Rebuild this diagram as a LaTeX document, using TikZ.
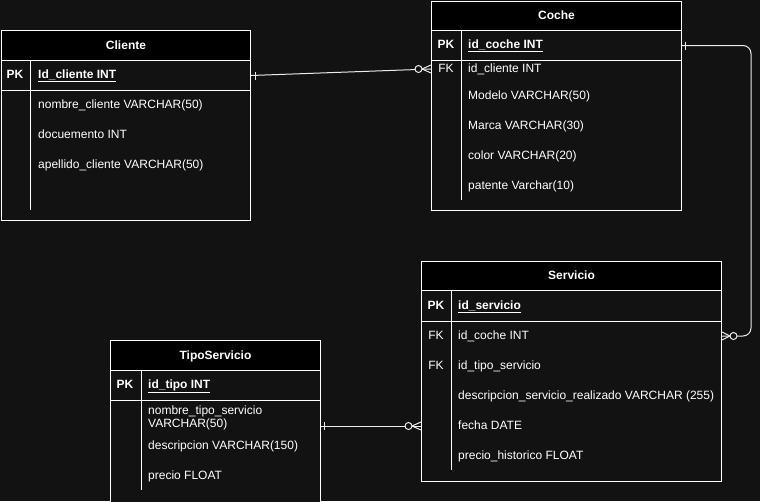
\documentclass[tikz,border=0pt]{standalone}
\usepackage{fontspec}
\setmainfont{Liberation Sans}
\usepackage{xcolor}
\usepackage{tikz}
\usetikzlibrary{calc}
\definecolor{er_bg}{RGB}{18, 18, 18}
\definecolor{er_line}{RGB}{235, 235, 235}

\begin{document}
\begin{tikzpicture}[x=1pt, y=-1pt,
    font=\fontsize{12}{14}\selectfont,
    tbl/.style={rectangle, draw=white, line width=1pt, fill=er_bg,
                anchor=north west, inner sep=0pt},
    hdr/.style={rectangle, draw=white, line width=1pt, fill=black,
                anchor=north west, inner sep=0pt, text=white,
                minimum height=30pt, text height=8pt, text depth=1pt,
                font=\fontsize{12}{14}\selectfont\bfseries},
    pkrow/.style={rectangle, draw=white, line width=1pt,
                  anchor=north west, inner sep=0pt, minimum height=30pt},
    sep/.style={white, line width=1pt},
    key/.style={text=white, inner sep=0pt, text height=8pt, text depth=1pt},
    fld/.style={text=white, anchor=west, inner sep=0pt, align=left,
                text height=8pt, text depth=1pt},
    rel/.style={er_line, line width=1pt},
    ring/.style={draw=er_line, line width=1pt, fill=er_bg},
  ]
  \useasboundingbox[fill=er_bg] (0,0) rectangle (760,501);

  % Cliente
  \node[tbl, minimum width=249pt, minimum height=160pt] (cliBody) at (1,60) {};
  \node[hdr, minimum width=249pt] (cliHead) at (1,30) {Cliente};
  \node[pkrow, minimum width=249pt] (cliPK) at (1,60) {};
  \draw[sep] (30,60) -- (30,210);
  \node[key, font=\fontsize{12}{14}\selectfont\bfseries] (cliPKk) at (15,75) {PK};
  \node[fld] (cliId) at (38,75) {\textbf{\underline{Id\_cliente INT}}};
  \node[fld] (cliNom) at (38,105) {nombre\_cliente VARCHAR(50)};
  \node[fld] (cliDoc) at (38,135) {docuemento INT};
  \node[fld] (cliApe) at (38,165) {apellido\_cliente VARCHAR(50)};

  % Coche
  \node[tbl, minimum width=250pt, minimum height=180pt] (cocBody) at (431,30) {};
  \node[hdr, minimum width=250pt, minimum height=29pt] (cocHead) at (431,1) {Coche};
  \node[pkrow, minimum width=250pt] (cocPK) at (431,30) {};
  \draw[sep] (461,30) -- (461,200);
  \node[key, font=\fontsize{12}{14}\selectfont\bfseries] (cocPKk) at (446,45) {PK};
  \node[key] (cocFKk) at (446,69) {FK};
  \node[fld] (cocId) at (468,45) {\textbf{\underline{id\_coche INT}}};
  \node[fld] (cocIdc) at (468,69) {id\_cliente INT};
  \node[fld] (cocMod) at (468,96) {Modelo VARCHAR(50)};
  \node[fld] (cocMar) at (468,126) {Marca VARCHAR(30)};
  \node[fld] (cocCol) at (468,156) {color VARCHAR(20)};
  \node[fld] (cocPat) at (468,186) {patente Varchar(10)};

  % Servicio
  \node[tbl, minimum width=300pt, minimum height=191pt] (serBody) at (421,290) {};
  \node[hdr, minimum width=300pt, minimum height=29pt] (serHead) at (421,261) {Servicio};
  \node[pkrow, minimum width=300pt, minimum height=31pt] (serPK) at (421,290) {};
  \draw[sep] (451,290) -- (451,470);
  \node[key, font=\fontsize{12}{14}\selectfont\bfseries] (serPKk) at (436,306) {PK};
  \node[key] (serFKk1) at (436,336) {FK};
  \node[key] (serFKk2) at (436,366) {FK};
  \node[fld] (serId) at (458,306) {\textbf{\underline{id\_servicio}}};
  \node[fld] (serIdc) at (458,336) {id\_coche INT};
  \node[fld] (serIdt) at (458,366) {id\_tipo\_servicio};
  \node[fld] (serDes) at (458,396) {descripcion\_servicio\_realizado VARCHAR (255)};
  \node[fld] (serFecha) at (458,426) {fecha DATE};
  \node[fld] (serPre) at (458,456) {precio\_historico FLOAT};

  % TipoServicio
  \node[tbl, minimum width=210pt, minimum height=132pt] (tipBody) at (110,370) {};
  \node[hdr, minimum width=210pt] (tipHead) at (110,340) {TipoServicio};
  \node[pkrow, minimum width=210pt] (tipPK) at (110,370) {};
  \draw[sep] (141,370) -- (141,490);
  \node[key, font=\fontsize{12}{14}\selectfont\bfseries] (tipPKk) at (125,385) {PK};
  \node[fld] (tipId) at (148,385) {\textbf{\underline{id\_tipo INT}}};
  \node[fld, text height=, text depth=, font=\fontsize{12}{13}\selectfont] (tipNom) at (148,417.5) {nombre\_tipo\_servicio\\VARCHAR(50)};
  \node[fld] (tipDes) at (148,446) {descripcion VARCHAR(150)};
  \node[fld] (tipPre) at (148,476) {precio FLOAT};

  % relaciones
  \coordinate (cocIn) at (cocIdc -| cocBody.west);
  \coordinate (serInR) at (serIdc -| serBody.east);
  \coordinate (tipOut) at (serFecha -| tipBody.east);
  \coordinate (serInL) at (serFecha -| serBody.west);

  \draw[rel] (cliPK.east) -- (cocIn);
  \draw[rel, rounded corners=8pt] (cocPK.east) -- ++(69,0) |- (serInR);
  \draw[rel] (tipOut) -- (serInL);

  % uno
  \draw[rel] ($(cliPK.east)+(4,-4)$) -- ++(0,8);
  \draw[rel] ($(cocPK.east)+(3,-4)$) -- ++(0,8);
  \draw[rel] ($(tipOut)+(3,-4)$) -- ++(0,8);

  % cero a muchos
  \draw[rel] ($(cocIn)+(0,-4)$) -- ($(cocIn)+(-9,0)$) -- ($(cocIn)+(0,4)$);
  \draw[ring] ($(cocIn)+(-12.5,0)$) circle (3.5);
  \draw[rel] ($(serInR)+(0,-4)$) -- ($(serInR)+(8,0)$) -- ($(serInR)+(0,4)$);
  \draw[ring] ($(serInR)+(11.5,0)$) circle (3.5);
  \draw[rel] ($(serInL)+(0,-4)$) -- ($(serInL)+(-9,0)$) -- ($(serInL)+(0,4)$);
  \draw[ring] ($(serInL)+(-12.5,0)$) circle (3.5);
\end{tikzpicture}
\end{document}
